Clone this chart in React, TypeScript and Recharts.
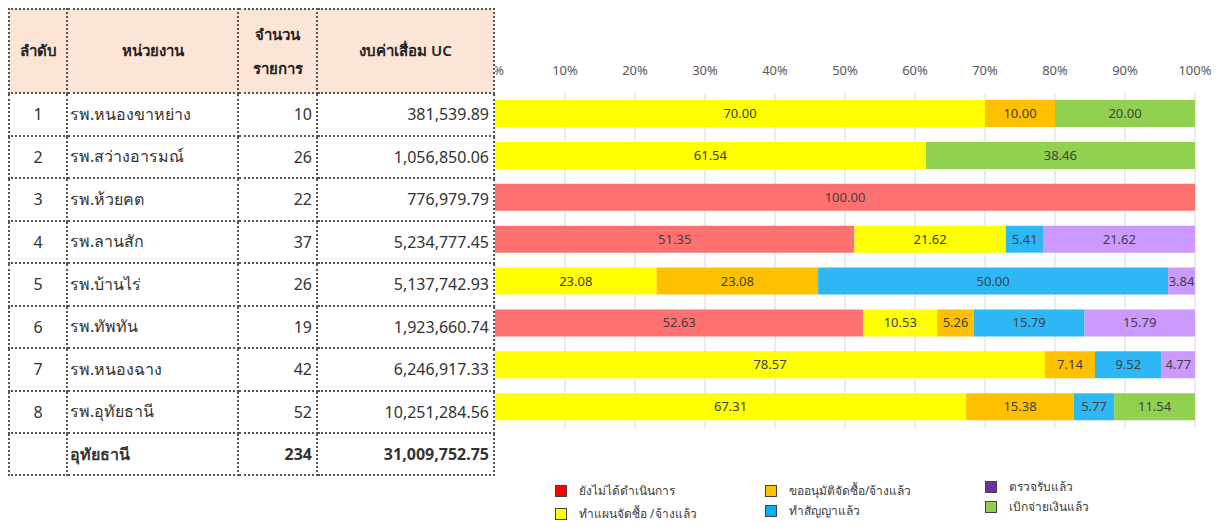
import { BarChart, Bar, XAxis, YAxis, CartesianGrid, LabelList } from "recharts";

const rowNo = ["1", "2", "3", "4", "5", "6", "7", "8"];
const units = [
  "รพ.หนองขาหย่าง",
  "รพ.สว่างอารมณ์",
  "รพ.ห้วยคต",
  "รพ.ลานสัก",
  "รพ.บ้านไร่",
  "รพ.ทัพทัน",
  "รพ.หนองฉาง",
  "รพ.อุทัยธานี",
];
const itemCounts = [10, 26, 22, 37, 26, 19, 42, 52];
const budgets = [
  "381,539.89",
  "1,056,850.06",
  "776,979.79",
  "5,234,777.45",
  "5,137,742.93",
  "1,923,660.74",
  "6,246,917.33",
  "10,251,284.56",
];
const totalName = "อุทัยธานี";
const totalCount = 234;
const totalBudget = "31,009,752.75";

// ร้อยละตามสถานะ
const notStarted = [null, null, 100, 51.35, null, 52.63, null, null];
const planned = [70, 61.54, null, 21.62, 23.08, 10.53, 78.57, 67.31];
const approved = [10, null, null, null, 23.08, 5.26, 7.14, 15.38];
const contracted = [null, null, null, 5.41, 50.0, 15.79, 9.52, 5.77];
const inspected = [null, null, null, 21.62, 3.84, 15.79, 4.77, null];
const disbursed = [20, 38.46, null, null, null, null, null, 11.54];

const pctTicks = [0, 10, 20, 30, 40, 50, 60, 70, 80, 90, 100];

const series = [
  { key: "notStarted", name: "ยังไม่ได้ดำเนินการ", fill: "#FF7171", legend: "#FF0000" },
  { key: "planned", name: "ทำแผนจัดซื้อ /จ้างแล้ว", fill: "#FFFF00", legend: "#FFFF00" },
  { key: "approved", name: "ขออนุมัติจัดซื้อ/จ้างแล้ว", fill: "#FFC000", legend: "#FFC000" },
  { key: "contracted", name: "ทำสัญญาแล้ว", fill: "#2DB8F5", legend: "#00B0F0" },
  { key: "inspected", name: "ตรวจรับแล้ว", fill: "#CC99FF", legend: "#7030A0" },
  { key: "disbursed", name: "เบิกจ่ายเงินแล้ว", fill: "#92D050", legend: "#92D050" },
];

const data = units.map((u, i) => ({
  unit: u,
  notStarted: notStarted[i],
  planned: planned[i],
  approved: approved[i],
  contracted: contracted[i],
  inspected: inspected[i],
  disbursed: disbursed[i],
}));

const font = "Tahoma, 'Noto Sans', sans-serif";
const cellBorder = "2px dotted #555";

const legendSpots: Record<string, { left: number; top: number }> = {
  notStarted: { left: 0, top: 5 },
  planned: { left: 0, top: 28 },
  approved: { left: 210, top: 5 },
  contracted: { left: 210, top: 25 },
  inspected: { left: 430, top: 1 },
  disbursed: { left: 430, top: 21 },
};

function LegendBox() {
  return (
    <div style={{ position: "absolute", left: 547, top: 470, width: 600, height: 44, fontFamily: font, fontSize: 12, color: "#404040" }}>
      {series.map((s) => (
        <div
          key={s.key}
          style={{ position: "absolute", left: legendSpots[s.key].left, top: legendSpots[s.key].top, display: "flex", alignItems: "center", whiteSpace: "nowrap", lineHeight: "16px" }}
        >
          <span style={{ display: "inline-block", width: 10, height: 10, background: s.legend, border: "1px solid #444", marginRight: 12 }} />
          {s.name}
        </div>
      ))}
    </div>
  );
}

function fmt(v: any) {
  if (v == null || v === 0) return "";
  return Number(v).toFixed(2);
}

function Table() {
  const th = { background: "#FCE4D6", border: cellBorder, fontWeight: 600, fontSize: 15, color: "#222", padding: 0 } as const;
  const td = { border: cellBorder, fontSize: 16, color: "#333", padding: "0 4px", height: 40 } as const;
  return (
    <table
      style={{ position: "absolute", left: 0, top: 0, width: 485, borderCollapse: "collapse", background: "#fff", zIndex: 2, fontFamily: font, tableLayout: "fixed" }}
    >
      <colgroup>
        <col style={{ width: 58 }} />
        <col style={{ width: 171 }} />
        <col style={{ width: 79 }} />
        <col style={{ width: 177 }} />
      </colgroup>
      <thead>
        <tr style={{ height: 84 }}>
          <th style={th}>ลำดับ</th>
          <th style={th}>หน่วยงาน</th>
          <th style={{ ...th, lineHeight: "34px" }}>
            จำนวน
            <br />
            รายการ
          </th>
          <th style={th}>งบค่าเสื่อม UC</th>
        </tr>
      </thead>
      <tbody>
        {units.map((u, i) => (
          <tr key={u} style={{ height: 42.5 }}>
            <td style={{ ...td, textAlign: "center" }}>{rowNo[i]}</td>
            <td style={{ ...td, textAlign: "left", padding: "0 2px" }}>{u}</td>
            <td style={{ ...td, textAlign: "right" }}>{itemCounts[i]}</td>
            <td style={{ ...td, textAlign: "right" }}>{budgets[i]}</td>
          </tr>
        ))}
        <tr style={{ height: 40 }}>
          <td style={td}></td>
          <td style={{ ...td, fontWeight: 700, padding: "0 2px" }}>{totalName}</td>
          <td style={{ ...td, textAlign: "right", fontWeight: 700 }}>{totalCount}</td>
          <td style={{ ...td, textAlign: "right", fontWeight: 700 }}>{totalBudget}</td>
        </tr>
      </tbody>
    </table>
  );
}

export default function App() {
  return (
    <div style={{ position: "relative", width: 1215, height: 514, fontFamily: font }}>
      <Table />
      <div style={{ position: "absolute", left: 0, top: 0, zIndex: 1 }}>
        <BarChart
          width={1215}
          height={506}
          data={data}
          layout="vertical"
          margin={{ top: 55, right: 28, bottom: 86, left: 487 }}
          barSize={27}
        >
          <CartesianGrid horizontal={false} stroke="#D9D9D9" />
          <XAxis
            type="number"
            orientation="top"
            domain={[0, 100]}
            ticks={pctTicks}
            tickFormatter={(v) => `${v}%`}
            axisLine={false}
            tickLine={false}
            tickMargin={12}
            tick={{ fill: "#595959", fontSize: 13, fontFamily: font }}
            height={30}
            interval={0}
          />
          <YAxis type="category" dataKey="unit" width={0} tick={false} axisLine={{ stroke: "#888" }} />
          {series.map((s) => (
            <Bar key={s.key} dataKey={s.key} name={s.name} stackId="a" fill={s.fill} isAnimationActive={false}>
              <LabelList dataKey={s.key} position="center" formatter={fmt} fill="#404040" fontSize={13} fontFamily={font} />
            </Bar>
          ))}
        </BarChart>
      </div>
      <LegendBox />
    </div>
  );
}
